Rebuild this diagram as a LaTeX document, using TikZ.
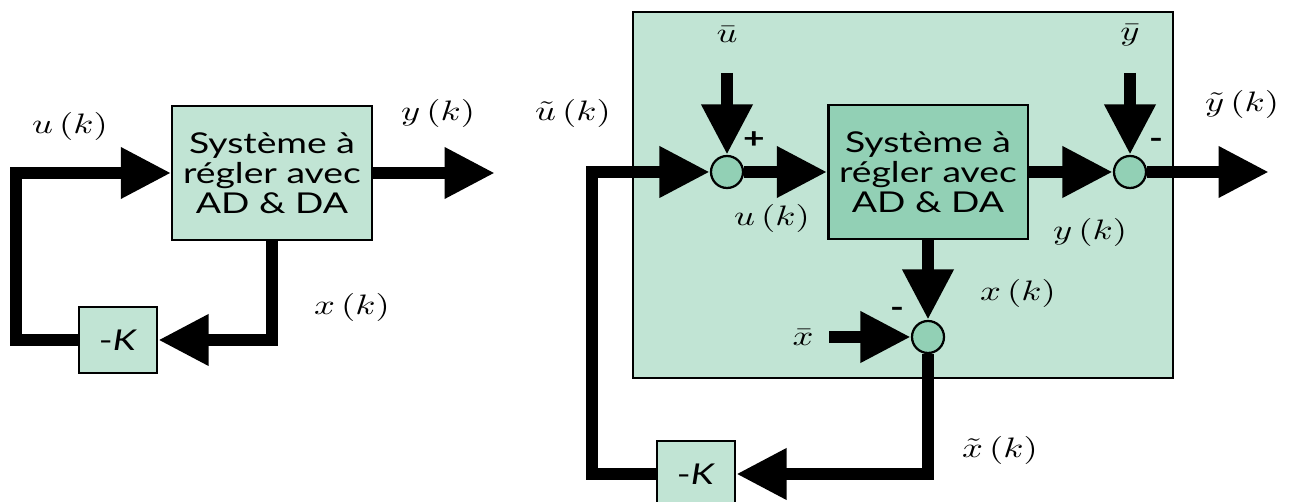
\documentclass[tikz,border=0pt]{standalone}
\usepackage{fontspec}
\usepackage{graphicx}
\newfontfamily\boxfont[FakeStretch=1.3]{Lato}
\usetikzlibrary{arrows.meta}
\definecolor{paleGreen}{HTML}{C1E4D4}
\definecolor{midGreen}{HTML}{92D0B5}
\newcommand{\mlbl}[1]{\scalebox{1.3}[1]{$#1$}}
\tikzset{
    sig/.style={line width=4.6pt, line join=miter, -{Triangle[length=0.63cm,width=0.6cm]}},
    sysbox/.style={draw, line width=0.8pt, fill=paleGreen, minimum width=2.49cm, minimum height=1.67cm,
        align=center, inner sep=0pt, font=\boxfont\fontsize{10.2}{10.6}\selectfont},
    gainbox/.style={draw, line width=0.8pt, fill=paleGreen, minimum width=0.975cm, minimum height=0.825cm,
        inner sep=0pt, font=\boxfont\fontsize{10.2}{10.6}\selectfont},
    sumpt/.style={draw, circle, line width=0.8pt, fill=midGreen, minimum size=0.4cm, inner sep=0pt},
    sgn/.style={font=\boxfont\bfseries\fontsize{10.2}{10.6}\selectfont}
}
\begin{document}
\begin{tikzpicture}[x=0.0125cm,y=-0.0125cm]
    \useasboundingbox (0,0) rectangle (1290,502);

    % Left loop
    \node[sysbox] (sysl) at (272,173) {Système à\\régler avec\\AD \& DA};
    \node[gainbox] (Kl) at (118,340) {-\textit{K}};
    \coordinate (fbl) at (16,340);
    \coordinate (youtl) at (495,173);
    \draw[sig] (Kl.west) -- (fbl) |- (sysl.west);
    \draw[sig] (sysl.south) |- (Kl.east);
    \draw[sig] (sysl.east) -- (youtl);
    \node at (70,126) {\mlbl{u\left(k\right)}};
    \node at (438,113) {\mlbl{y\left(k\right)}};
    \node at (352,307) {\mlbl{x\left(k\right)}};

    % Right loop with offsets
    \draw[line width=0.8pt, fill=paleGreen] (633,12) rectangle (1173,378);
    \node[sysbox, fill=midGreen] (sysr) at (928,172) {Système à\\régler avec\\AD \& DA};
    \node[sumpt] (sum1) at (727,172) {};
    \node[sumpt] (sum2) at (1130,172) {};
    \node[sumpt] (sum3) at (928,337) {};
    \node[gainbox] (Kr) at (696,474) {-\textit{K}};
    \coordinate (ubar) at (727,73);
    \coordinate (ybar) at (1130,73);
    \coordinate (xbar) at (829,337);
    \coordinate (ytout) at (1269,172);
    \coordinate (fbr) at (592,474);
    \draw[sig] (ubar) -- (sum1.north);
    \draw[sig] (ybar) -- (sum2.north);
    \draw[sig] (xbar) -- (sum3.west);
    \draw[sig] (sum1.east) -- (sysr.west);
    \draw[sig] (sysr.east) -- (sum2.west);
    \draw[sig] (sum2.east) -- (ytout);
    \draw[sig] (sysr.south) -- (sum3.north);
    \draw[sig] (sum3.south) |- (Kr.east);
    \draw[sig] (Kr.west) -- (fbr) |- (sum1.west);

    % Signs
    \node[sgn] at (754,140) {+};
    \node[sgn] at (1156,143) {-};
    \node[sgn] at (897,312) {-};

    % Labels
    \node at (727,35) {\mlbl{\bar{u}}};
    \node at (1130,35) {\mlbl{\bar{y}}};
    \node at (803,338) {\mlbl{\bar{x}}};
    \node at (573,113) {\mlbl{\tilde{u}\left(k\right)}};
    \node at (772,218) {\mlbl{u\left(k\right)}};
    \node at (1090,232) {\mlbl{y\left(k\right)}};
    \node at (1242,104) {\mlbl{\tilde{y}\left(k\right)}};
    \node at (1018,293) {\mlbl{x\left(k\right)}};
    \node at (1000,450) {\mlbl{\tilde{x}\left(k\right)}};
\end{tikzpicture}
\end{document}
